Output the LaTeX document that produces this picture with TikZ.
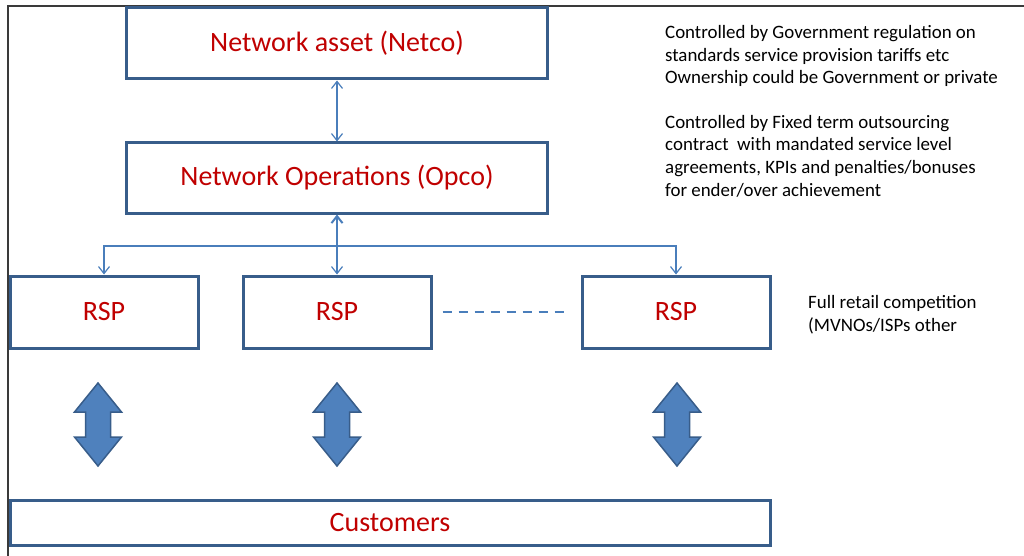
\documentclass[tikz,border=0pt]{standalone}
\usepackage{fontspec}
\setmainfont{Carlito}
\usetikzlibrary{positioning, arrows, arrows.meta}
\definecolor{boxline}{HTML}{385D8A}
\definecolor{boxtext}{HTML}{C00000}
\definecolor{linkblue}{HTML}{4A7EBB}
\definecolor{arrowfill}{HTML}{4F81BD}
\definecolor{framegray}{HTML}{3A3A3A}
\tikzset{
    x=1pt, y=-1pt, % pixel-like units, y downwards
    unit/.style={draw=boxline, line width=3pt, fill=white, text=boxtext,
        inner sep=0pt, font=\fontsize{28}{34}\selectfont}, % Styling for boxes
    note/.style={anchor=base west, align=left, inner sep=0pt,
        font=\fontsize{18.9}{22.5}\selectfont}, % side comments, placed by last baseline
    link/.style={draw=linkblue, line width=1.2pt,
        arrows={Straight Barb[length=7pt,width=11pt]-Straight Barb[length=7pt,width=11pt]}},
    uplink/.style={draw=linkblue, line width=2pt, -{Straight Barb[length=7pt,width=11pt]}},
    feed/.style={draw=linkblue, line width=1.2pt, -{Straight Barb[length=7pt,width=11pt]}},
    dashline/.style={draw=linkblue, line width=1.2pt, dash pattern=on 9pt off 7pt},
    blockarrow/.style={draw=boxline, line width=1.5pt, fill=arrowfill, line join=miter},
}

\begin{document}
\begin{tikzpicture}
    \useasboundingbox (0,0) rectangle (1024,556);
    \draw[framegray, line width=1.5pt] (8,556) -- (8,6) -- (1024,6);

    \node[unit, minimum width=421pt, minimum height=71pt] (netco) at (337,43.5) {Network asset (Netco)};
    \node[unit, minimum width=421pt, minimum height=70pt] (opco) at (337,178) {Network Operations (Opco)};
    \node[unit, minimum width=188pt, minimum height=72pt] (rsp1) at (104,312) {RSP};
    \node[unit, minimum width=188pt, minimum height=72pt] (rsp2) at (337,312) {RSP};
    \node[unit, minimum width=188pt, minimum height=72pt] (rsp3) at (676,312) {RSP};
    \node[unit, minimum width=760pt, minimum height=45pt] (cust) at (390,522.5) {Customers};
    \coordinate (hub) at (337,246);

    \path[link] (netco) -- (opco);
    \path[uplink] (hub) -- (opco);
    \path[feed] (hub) -| (rsp1.north);
    \path[feed] (hub) -- (rsp2);
    \path[feed] (hub) -| (rsp3.north);
    \path[dashline, shorten <=10pt, shorten >=15pt] (rsp2) -- (rsp3);

    % double block arrows between retailers and customers
    \foreach \x in {98,337,677}
        \draw[blockarrow] (\x,383) -- ++(23.5,29) -- ++(-11,0) -- ++(0,25) -- ++(11,0)
            -- (\x,466) -- ++(-23.5,-29) -- ++(11,0) -- ++(0,-25) -- ++(-11,0) -- cycle;

    \node[note] (regnote) at (665,84) {Controlled by Government regulation on\\
        standards service provision tariffs etc\\
        Ownership could be Government or private};
    \node[note] (opnote) at (665,196) {Controlled by Fixed term outsourcing\\
        contract~ with mandated service level\\
        agreements, KPIs and penalties/bonuses\\
        for ender/over achievement};
    \node[note] (rspnote) at (808,331) {Full retail competition\\
        (MVNOs/ISPs other};
\end{tikzpicture}
\end{document}
